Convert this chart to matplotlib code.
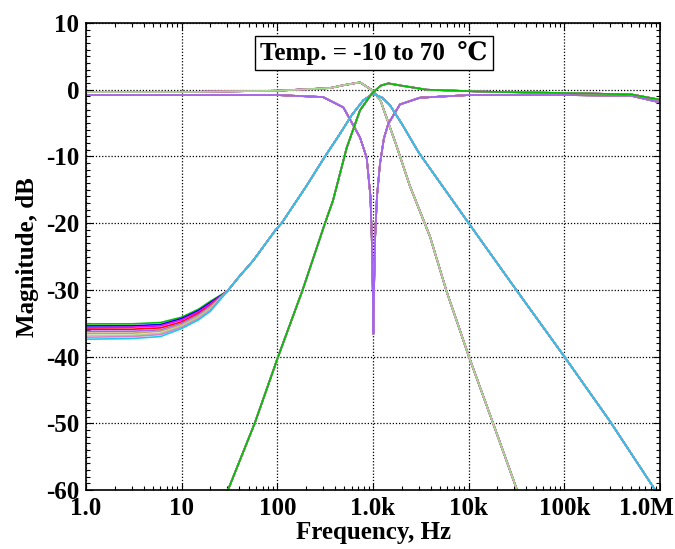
"""Filter magnitude response over temperature (-10 to 70 C), log frequency axis."""
import matplotlib

matplotlib.use("Agg")
import matplotlib.pyplot as plt
from matplotlib.ticker import FixedLocator, LogLocator, MultipleLocator, NullFormatter
from matplotlib.transforms import ScaledTranslation

plt.rcParams["font.family"] = ["Liberation Serif", "DejaVu Serif"]
plt.rcParams["font.weight"] = "bold"

# --- data --------------------------------------------------------------------
temps_c = [-10, 0, 10, 20, 30, 40, 50, 60, 70]
temp_colors = ["#00c000", "#20c8f0", "#0000ff", "#ff00ff", "#ff0000",
               "#a064f0", "#c8a070", "#a8d890", "#e07cc8"]

# band-pass: low-frequency floor spreads with temperature
bp_low_freq = [1, 3, 6, 10, 15, 20]
bp_low_db = [
    [-35.1, -35.1, -34.9, -34.1, -32.9, -31.7],
    [-35.4, -35.4, -35.2, -34.3, -33.1, -31.9],
    [-35.7, -35.6, -35.4, -34.5, -33.3, -32.1],
    [-35.9, -35.9, -35.7, -34.8, -33.5, -32.3],
    [-36.2, -36.2, -36.0, -35.0, -33.7, -32.4],
    [-36.5, -36.5, -36.2, -35.2, -33.9, -32.6],
    [-36.8, -36.8, -36.5, -35.4, -34.1, -32.8],
    [-37.1, -37.0, -36.7, -35.6, -34.3, -33.0],
    [-37.4, -37.3, -37.0, -35.8, -34.5, -33.2],
]
bp_freq = [30, 40, 56, 95, 111, 200, 315, 452, 600, 790, 1000, 1250, 1500,
           2000, 3000, 5000, 10000, 30000, 100000, 300000, 890000, 1000000]
bp_db = [-30.2, -28.0, -25.6, -21.1, -20.0, -14.5, -10.0, -6.6, -3.8, -1.6,
         -0.6, -1.2, -2.3, -5.1, -9.4, -13.9, -20.0, -29.6, -40.0, -49.7,
         -60.0, -61.0]

hp_freq = [28, 30.5, 58, 102, 184, 315, 382, 531, 731, 970, 1200, 1445, 2000,
           3640, 15000, 100000, 500000, 1000000]
hp_db = [-61.5, -60.0, -50.0, -40.0, -30.0, -20.0, -16.6, -8.7, -3.1, -0.6,
         0.6, 0.95, 0.6, 0.0, -0.3, -0.5, -0.7, -1.5]

lp_freq = [1, 10, 100, 355, 500, 731, 1000, 1200, 1770, 2440, 3940, 5870,
           10000, 18100, 32200, 35000]
lp_db = [-0.35, -0.35, -0.15, 0.25, 0.7, 1.1, -0.15, -1.65, -8.5, -14.5,
         -22.0, -30.2, -39.9, -50.1, -60.1, -61.5]

notch_freq = [1, 100, 300, 490, 731, 859, 940, 970, 995, 1010, 1025, 1050,
              1100, 1183, 1300, 1445, 1915, 3090, 10000, 100000, 500000, 1000000]
notch_db = [-0.8, -0.8, -1.1, -2.65, -7.15, -10.2, -16.0, -22.0, -30.0, -36.6,
            -30.0, -22.5, -16.0, -11.1, -7.3, -5.1, -2.2, -1.2, -0.8, -0.8,
            -0.9, -1.9]

x_ticks = [1, 10, 100, 1000, 10000, 100000, 1000000]
x_tick_labels = ["1.0", "10", "100", "1.0k", "10k", "100k", "1.0M"]
y_ticks = [-60, -50, -40, -30, -20, -10, 0, 10]

# --- figure -------------------------------------------------------------------
fig = plt.figure(figsize=(6.75, 5.49), dpi=100)
ax = fig.add_axes([86 / 675, 59 / 549, 574 / 675, 467 / 549])


def draw_family(freqs, dbs_per_temp, top_color):
    """Draw one curve per temperature; the filter's dominant colour goes last."""
    order = [c for c in temp_colors if c != top_color] + [top_color]
    for color, dbs in zip(order, dbs_per_temp):
        ax.plot(freqs, dbs, color=color, lw=1.2, solid_joinstyle="round")


n = len(temps_c)
draw_family(lp_freq, [lp_db] * n, "#a8d890")
draw_family(notch_freq, [notch_db] * n, "#a064f0")
bp_rows = [row + bp_db for row in bp_low_db]
draw_family(bp_low_freq + bp_freq, bp_rows, "#20c8f0")
draw_family(hp_freq, [hp_db] * n, "#00c000")

ax.set_xscale("log")
ax.set_xlim(1, 1e6)
ax.set_ylim(-60, 10)

ax.xaxis.set_major_locator(FixedLocator(x_ticks))
ax.set_xticklabels(x_tick_labels)
ax.xaxis.set_minor_locator(LogLocator(base=10, subs=range(2, 10), numticks=20))
ax.xaxis.set_minor_formatter(NullFormatter())
ax.yaxis.set_major_locator(FixedLocator(y_ticks))
ax.set_yticklabels([str(v) for v in y_ticks])
ax.yaxis.set_minor_locator(MultipleLocator(1))

ax.tick_params(which="both", direction="in", top=True, right=True,
               labelsize=18, width=0.8)
ax.tick_params(which="major", length=5, pad=5)
ax.tick_params(which="minor", length=3)
for lab in ax.get_xticklabels() + ax.get_yticklabels():
    lab.set_fontweight("bold")
# the last frequency label sits pulled in from the right edge
last = ax.get_xticklabels()[-1]
last.set_transform(last.get_transform()
                   + ScaledTranslation(-14 / 100, 0, fig.dpi_scale_trans))

ax.grid(True, which="major", color="black", ls=(0, (1, 1.5)), lw=0.9)
for sp in ax.spines.values():
    sp.set_linewidth(1.2)

fig.text(373 / 675, 1 - 533 / 549, "Frequency, Hz", ha="center", va="center",
         fontsize=18, fontweight="bold")
fig.text(28 / 675, 1 - 257 / 549, "Magnitude, dB", ha="center", va="center",
         rotation=90, fontsize=18, fontweight="bold")

ax.text(0.502, 0.935, "Temp. = -10 to 70  \u2103", transform=ax.transAxes,
        ha="center", va="center", fontsize=18, fontweight="bold",
        bbox=dict(boxstyle="square,pad=0.2", fc="white", ec="black", lw=1))

fig.savefig("out.png", dpi=100)
